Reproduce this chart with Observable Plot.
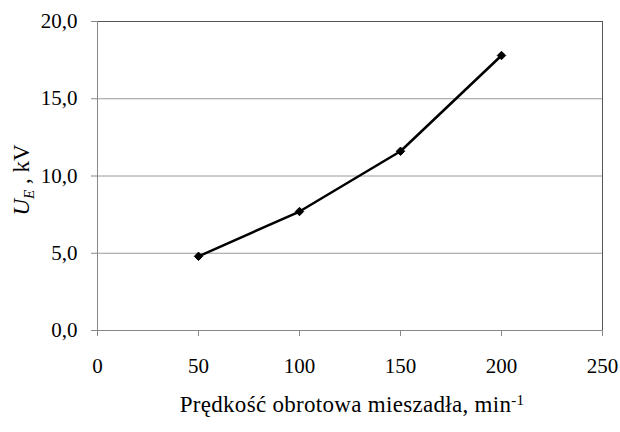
<!DOCTYPE html>
<html>
<head>
<meta charset="utf-8">
<script src="https://cdn.jsdelivr.net/npm/d3@7"></script>
<script src="https://cdn.jsdelivr.net/npm/@observablehq/plot@0.6"></script>
<style>
  body { margin: 0; background: #fff; }
  #chart { width: 620px; }
  .xtitle {
    font-family: "Liberation Serif", "Times New Roman", serif;
    font-size: 23px;
    letter-spacing: 0.3px;
    color: #000;
    margin-left: 97px;
    width: 510px;
    text-align: center;
    line-height: 26px;
    padding-top: 2px;
  }
  .xtitle sup { font-size: 15px; vertical-align: 7px; line-height: 0; }
</style>
</head>
<body>
<div id="chart"></div>
<script>
// Rotational speed of the stirrer (min^-1)
const speeds = [50, 100, 150, 200];
// Voltage U_E (kV)
const voltages = [4.8, 7.7, 11.6, 17.8];
const xTicks = [0, 50, 100, 150, 200, 250];
const yTicks = [0, 5, 10, 15, 20];
const gridValues = [5, 10, 15];

const data = speeds.map((s, i) => ({speed: s, ue: voltages[i]}));
const comma1 = v => d3.format(".1f")(v).replace(".", ",");

const font = "Liberation Serif, Times New Roman, serif";

const chart = Plot.plot({
  width: 620,
  height: 390,
  marginLeft: 97,
  marginRight: 18,
  marginTop: 21,
  marginBottom: 60,
  style: {fontFamily: font, fontSize: "21px", color: "#000", background: "#fff"},
  x: {domain: [0, 250], label: null},
  y: {domain: [0, 20], label: null},
  marks: [
    Plot.ruleY(gridValues, {stroke: "#9a9a9a", strokeWidth: 1}),
    Plot.ruleY([20], {stroke: "#555", strokeWidth: 1}),
    Plot.ruleX([250], {y1: 0, y2: 20, stroke: "#555", strokeWidth: 1}),
    Plot.ruleX([0], {y1: 0, y2: 20, stroke: "#888", strokeWidth: 1}),
    Plot.ruleY([0], {stroke: "#888", strokeWidth: 1}),
    Plot.axisY({ticks: yTicks, tickSize: 6, tickPadding: 14, tickFormat: comma1, stroke: "#888", fill: "#000", label: null}),
    Plot.axisX({ticks: xTicks, tickSize: 6, tickPadding: 22, tickFormat: d3.format("d"), stroke: "#888", fill: "#000", label: null}),
    Plot.line(data, {x: "speed", y: "ue", stroke: "#000", strokeWidth: 2.5}),
    Plot.dot(data, {x: "speed", y: "ue", symbol: "diamond2", r: 3.8, fill: "#000", stroke: "#000", strokeWidth: 1})
  ]
});

// Y axis title with italic U and subscript E
const svg = d3.select(chart);
const ylab = svg.append("text")
  .attr("transform", "translate(29,180) rotate(-90)")
  .attr("text-anchor", "middle")
  .attr("font-family", font)
  .attr("font-size", 23)
  .attr("fill", "#000");
ylab.append("tspan").attr("font-style", "italic").text("U");
ylab.append("tspan").attr("font-style", "italic").attr("font-size", 15).attr("dy", 5).text("E");
ylab.append("tspan").attr("dy", -5).text(" , kV");

const container = document.getElementById("chart");
container.appendChild(chart);

const title = document.createElement("div");
title.className = "xtitle";
title.innerHTML = "Prędkość obrotowa mieszadła, min<sup>-1</sup>";
container.appendChild(title);
</script>
</body>
</html>
